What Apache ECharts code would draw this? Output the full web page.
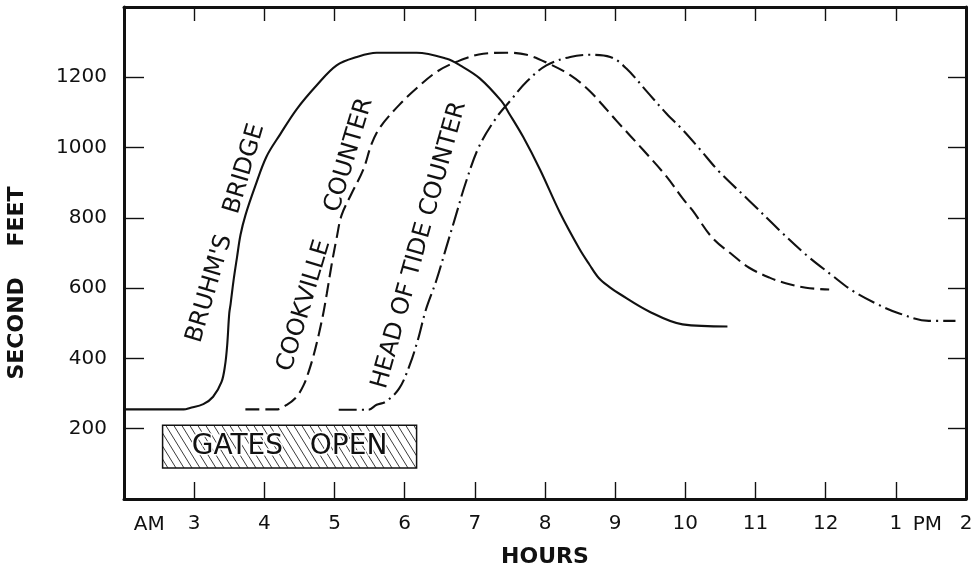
<!DOCTYPE html>
<html>
<head>
<meta charset="utf-8">
<script src="https://cdn.jsdelivr.net/npm/echarts@6/dist/echarts.min.js"></script>
<style>
  html, body { margin: 0; padding: 0; background: #ffffff; }
  #chart { width: 977px; height: 573px; }
</style>
</head>
<body>
<div id="chart"></div>
<script>
// Discharge (second-feet) by hour at three stations after the gates were opened

// Axis ticks and their printed labels
const hourTicks = [2, 3, 4, 5, 6, 7, 8, 9, 10, 11, 12, 13, 14];
const hourTickLabels = ['', '3', '4', '5', '6', '7', '8', '9', '10', '11', '12', '1', '2'];
const flowTicks = [0, 200, 400, 600, 800, 1000, 1200, 1400];
const flowTickLabels = ['', '200', '400', '600', '800', '1000', '1200', ''];

// Bruhm's Bridge (solid)
const bruhmHours = [2.0, 2.85, 2.94, 3.13, 3.27, 3.39, 3.44, 3.47, 3.50, 3.52, 3.56, 3.61, 3.66, 3.73, 3.87, 4.03, 4.23, 4.46, 4.75, 5.03, 5.32, 5.60, 6.17, 6.60, 6.79, 7.07, 7.38, 7.48, 7.69, 7.93, 8.21, 8.49, 8.63, 8.77, 8.92, 9.06, 9.49, 9.96, 10.60];
const bruhmFlow = [255, 255, 259, 270, 291, 333, 380, 436, 528, 556, 620, 687, 751, 807, 890, 974, 1039, 1109, 1178, 1234, 1258, 1270, 1270, 1253, 1234, 1197, 1132, 1100, 1030, 937, 816, 712, 668, 628, 603, 584, 533, 497, 491];

// Cookville Counter (dashed)
const cookvilleHours = [3.73, 4.17, 4.32, 4.46, 4.56, 4.63, 4.70, 4.77, 4.84, 4.89, 4.96, 5.03, 5.10, 5.24, 5.41, 5.53, 5.65, 5.93, 6.17, 6.46, 6.74, 7.12, 7.45, 7.74, 8.02, 8.36, 8.64, 9.02, 9.40, 9.73, 9.97, 10.10, 10.39, 10.67, 10.91, 11.20, 11.43, 11.72, 12.05];
const cookvilleFlow = [255, 255, 268, 291, 324, 361, 407, 463, 528, 584, 668, 742, 807, 868, 937, 1011, 1058, 1123, 1169, 1216, 1244, 1267, 1270, 1264, 1242, 1206, 1160, 1076, 993, 918, 853, 822, 742, 695, 658, 630, 614, 601, 596];

// Head of Tide Counter (dash-dot)
const headHours = [5.06, 5.48, 5.60, 5.73, 5.92, 6.07, 6.19, 6.30, 6.45, 6.59, 6.73, 6.87, 7.06, 7.31, 7.50, 7.74, 8.02, 8.36, 8.64, 8.93, 9.16, 9.45, 9.73, 9.97, 10.20, 10.48, 10.91, 11.34, 11.72, 12.10, 12.38, 12.72, 13.05, 13.47, 13.85];
const headFlow = [254, 254, 268, 277, 314, 380, 454, 537, 621, 714, 807, 900, 1003, 1086, 1132, 1188, 1234, 1258, 1264, 1258, 1225, 1160, 1097, 1049, 997, 932, 849, 765, 695, 635, 593, 556, 528, 507, 507];

// Period the gates stood open: hours and the flow band the box spans
const gatesOpenHours = [2.55, 6.17];
const gatesOpenBand = [88, 210];

const pair = (xs, ys) => xs.map((x, i) => [x, ys[i]]);

const FONT = '"DejaVu Sans", Verdana, sans-serif';
const INK = '#111111';

// Diagonal hatch used to fill the gates-open box
function hatchCanvas() {
  const w = 8, h = 13;
  const c = document.createElement('canvas');
  c.width = w; c.height = h;
  const ctx = c.getContext('2d');
  ctx.fillStyle = '#ffffff';
  ctx.fillRect(0, 0, w, h);
  ctx.strokeStyle = '#3a3a3a';
  ctx.lineWidth = 1;
  for (const off of [-w, 0, w]) {
    ctx.beginPath();
    ctx.moveTo(off - 1, -h / w);
    ctx.lineTo(off + w + 1, h + h / w);
    ctx.stroke();
  }
  return c;
}

const chart = echarts.init(document.getElementById('chart'), null, { renderer: 'canvas' });

const frameLine = { show: true, onZero: false, lineStyle: { color: INK, width: 3 } };
const tickStyle = { color: INK, width: 1.4 };

const lineBase = {
  type: 'line',
  showSymbol: false,
  symbol: 'none',
  smooth: 0.35,
  silent: true,
  animation: false
};

chart.setOption({
  animation: false,
  backgroundColor: '#ffffff',
  grid: { left: 124, right: 11, top: 7, bottom: 64, containLabel: false },
  xAxis: [
    {
      type: 'value', position: 'bottom', min: 2, max: 14, interval: 1,
      axisLine: frameLine,
      axisTick: { show: true, inside: true, length: 17, lineStyle: tickStyle },
      axisLabel: {
        show: true, margin: 15, color: INK, fontFamily: FONT, fontSize: 20,
        showMinLabel: true, showMaxLabel: true,
        formatter: v => hourTickLabels[hourTicks.indexOf(Math.round(v))] || ''
      },
      splitLine: { show: false },
      name: 'HOURS', nameLocation: 'middle', nameGap: 47,
      nameTextStyle: { color: INK, fontFamily: FONT, fontSize: 22, fontWeight: 'bold' }
    },
    {
      type: 'value', position: 'top', min: 2, max: 14, interval: 1,
      axisLine: frameLine,
      axisTick: { show: true, inside: true, length: 14, lineStyle: tickStyle },
      axisLabel: { show: false },
      splitLine: { show: false }
    }
  ],
  yAxis: [
    {
      type: 'value', position: 'left', min: 0, max: 1400, interval: 200,
      axisLine: frameLine,
      axisTick: { show: true, inside: true, length: 20, lineStyle: tickStyle },
      axisLabel: {
        show: true, margin: 17, color: INK, fontFamily: FONT, fontSize: 20,
        formatter: v => flowTickLabels[flowTicks.indexOf(Math.round(v))] || ''
      },
      splitLine: { show: false }
    },
    {
      type: 'value', position: 'right', min: 0, max: 1400, interval: 200,
      axisLine: frameLine,
      axisTick: { show: true, inside: true, length: 18, lineStyle: tickStyle },
      axisLabel: { show: false },
      splitLine: { show: false }
    }
  ],
  series: [
    Object.assign({}, lineBase, {
      name: "Bruhm's Bridge",
      data: pair(bruhmHours, bruhmFlow),
      lineStyle: { color: INK, width: 2.1, type: 'solid' },
      markArea: {
        silent: true,
        itemStyle: {
          color: { image: hatchCanvas(), repeat: 'repeat' },
          borderColor: INK, borderWidth: 1.5
        },
        label: {
          show: true, position: 'inside', color: INK,
          fontFamily: FONT, fontSize: 28,
          textBorderColor: '#ffffff', textBorderWidth: 3
        },
        data: [[
          { name: 'GATES   OPEN', coord: [gatesOpenHours[0], gatesOpenBand[1]] },
          { coord: [gatesOpenHours[1], gatesOpenBand[0]] }
        ]]
      }
    }),
    Object.assign({}, lineBase, {
      name: 'Cookville Counter',
      data: pair(cookvilleHours, cookvilleFlow),
      lineStyle: { color: INK, width: 2.1, type: [14, 6] }
    }),
    Object.assign({}, lineBase, {
      name: 'Head of Tide Counter',
      data: pair(headHours, headFlow),
      lineStyle: { color: INK, width: 2.1, type: [18, 5, 2, 5] }
    })
  ]
});

// Curve captions run along each rising limb; AM / PM flank the hour labels
const curveCaptions = [
  { text: "BRUHM'S   BRIDGE", at: [3.45, 756], angle: 73.7 },
  { text: 'COOKVILLE    COUNTER', at: [4.87, 752], angle: 73.4 },
  { text: 'HEAD OF TIDE COUNTER', at: [6.21, 722], angle: 74.4 }
];
const meridiemMarks = [
  { text: 'AM', hour: 2.36 },
  { text: 'PM', hour: 13.45 }
];

const toPx = p => chart.convertToPixel({ xAxisIndex: 0, yAxisIndex: 0 }, p);
const axisBottom = toPx([2, 0])[1];

const graphics = [];
curveCaptions.forEach(c => {
  const p = toPx(c.at);
  graphics.push({
    type: 'text', x: p[0], y: p[1], rotation: c.angle * Math.PI / 180, silent: true,
    style: {
      text: c.text, font: '24px ' + FONT, fill: INK,
      align: 'center', verticalAlign: 'middle',
      textAlign: 'center', textVerticalAlign: 'middle'
    }
  });
});
meridiemMarks.forEach(m => {
  const p = toPx([m.hour, 0]);
  graphics.push({
    type: 'text', x: p[0], y: axisBottom + 26, silent: true,
    style: {
      text: m.text, font: '20px ' + FONT, fill: INK,
      align: 'center', verticalAlign: 'middle',
      textAlign: 'center', textVerticalAlign: 'middle'
    }
  });
});
graphics.push({
  type: 'text', x: 17, y: 283, rotation: Math.PI / 2, silent: true,
  style: {
    text: 'SECOND    FEET', font: 'bold 22px ' + FONT, fill: INK,
    align: 'center', verticalAlign: 'middle',
    textAlign: 'center', textVerticalAlign: 'middle'
  }
});

chart.setOption({ graphic: graphics });
</script>
</body>
</html>
